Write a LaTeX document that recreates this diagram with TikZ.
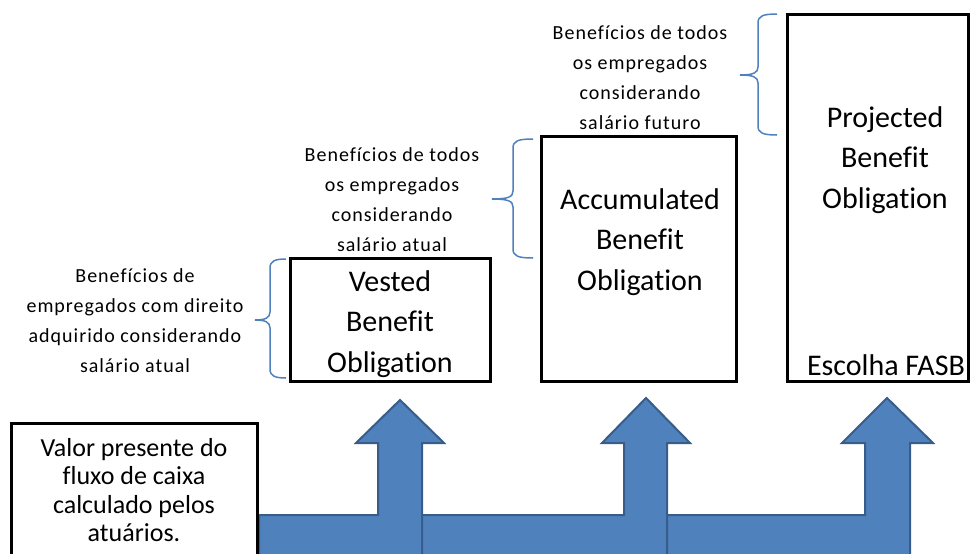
\documentclass[tikz,border=0pt]{standalone}
\usepackage{fontspec}
\setmainfont{Carlito}[Ligatures=NoCommon]
\newfontfamily\lblfont[LetterSpace=5,Ligatures=NoCommon]{Carlito}
\definecolor{arrfill}{HTML}{4F81BD}
\definecolor{arrline}{HTML}{385D8A}
\begin{document}
\begin{tikzpicture}[x=1pt,y=-1pt,
  box/.style={draw=black,line width=3pt,inner sep=0pt},
  bigtxt/.style={align=center,font=\fontsize{30}{40.5}\selectfont,inner sep=0pt},
  valtxt/.style={align=center,font=\fontsize{26}{28.5}\selectfont,inner sep=0pt},
  lbl/.style={align=center,font=\lblfont\fontsize{20}{30}\selectfont,inner sep=0pt},
  bentarrow/.style={fill=arrfill,draw=arrline,line width=2pt,line join=miter},
  bracestyle/.style={draw=arrfill,line width=1.5pt}]
\useasboundingbox (0,0) rectangle (970,554);
\clip (0,0) rectangle (970,554);
\fill[white] (0,0) rectangle (970,554);
\newcommand{\pbrace}[6]{% xright, xvert, xtip, ytop, ymid, ybot
  \draw[bracestyle] (#1,#4) .. controls (#2+5,#4) and (#2,#4+2) .. (#2,#4+9)
    -- (#2,#5-8) .. controls (#2,#5-2) and (#2-5,#5) .. (#3,#5)
    .. controls (#2-5,#5) and (#2,#5+2) .. (#2,#5+8)
    -- (#2,#6-9) .. controls (#2,#6-2) and (#2+5,#6) .. (#1,#6);}
% bent-up arrows
\draw[bentarrow] (259,560) -- (259,515) -- (378,515) -- (378,443) -- (356,443) -- (400,400) -- (444,443) -- (422,443) -- (422,560) -- cycle;
\draw[bentarrow] (422,560) -- (422,515) -- (624,515) -- (624,443) -- (602,443) -- (646,398) -- (690,443) -- (667,443) -- (667,560) -- cycle;
\draw[bentarrow] (667,560) -- (667,515) -- (865,515) -- (865,443) -- (842,443) -- (887,398) -- (933,443) -- (910,443) -- (910,560) -- cycle;
% boxes
\node[box,minimum width=246pt,minimum height=134pt,fill=white] (valor) at (134,490) {};
\node[valtxt] (valortxt) at (134,490) {Valor presente do\\fluxo de caixa\\calculado pelos\\atuários.};
\node[box,minimum width=200pt,minimum height=123pt] (vbo) at (390,319.5) {};
\node[bigtxt] (vbotxt) at (390,324) {Vested\\Benefit\\Obligation};
\node[box,minimum width=195pt,minimum height=245pt] (abo) at (638.5,258.5) {};
\node[bigtxt] (abotxt) at (640,242) {Accumulated\\Benefit\\Obligation};
\node[box,minimum width=181pt,minimum height=367pt] (pbo) at (877.5,197.5) {};
\node[bigtxt] (pbotxt) at (885,160) {Projected\\Benefit\\Obligation};
\node[bigtxt] (fasb) at (886,365) {Escolha FASB};
% labels
\node[lbl] (lbl1) at (135,320.5) {Benefícios de\\empregados com direito\\adquirido considerando\\salário atual};
\node[lbl] (lbl2) at (392,200) {Benefícios de todos\\os empregados\\considerando\\salário atual};
\node[lbl] (lbl3) at (640,78) {Benefícios de todos\\os empregados\\considerando\\salário futuro};
% braces
\pbrace{286}{270}{255}{259}{320}{378}
\pbrace{533}{513}{492}{139}{199}{258}
\pbrace{777}{758}{740}{14}{75}{135}
\end{tikzpicture}
\end{document}
